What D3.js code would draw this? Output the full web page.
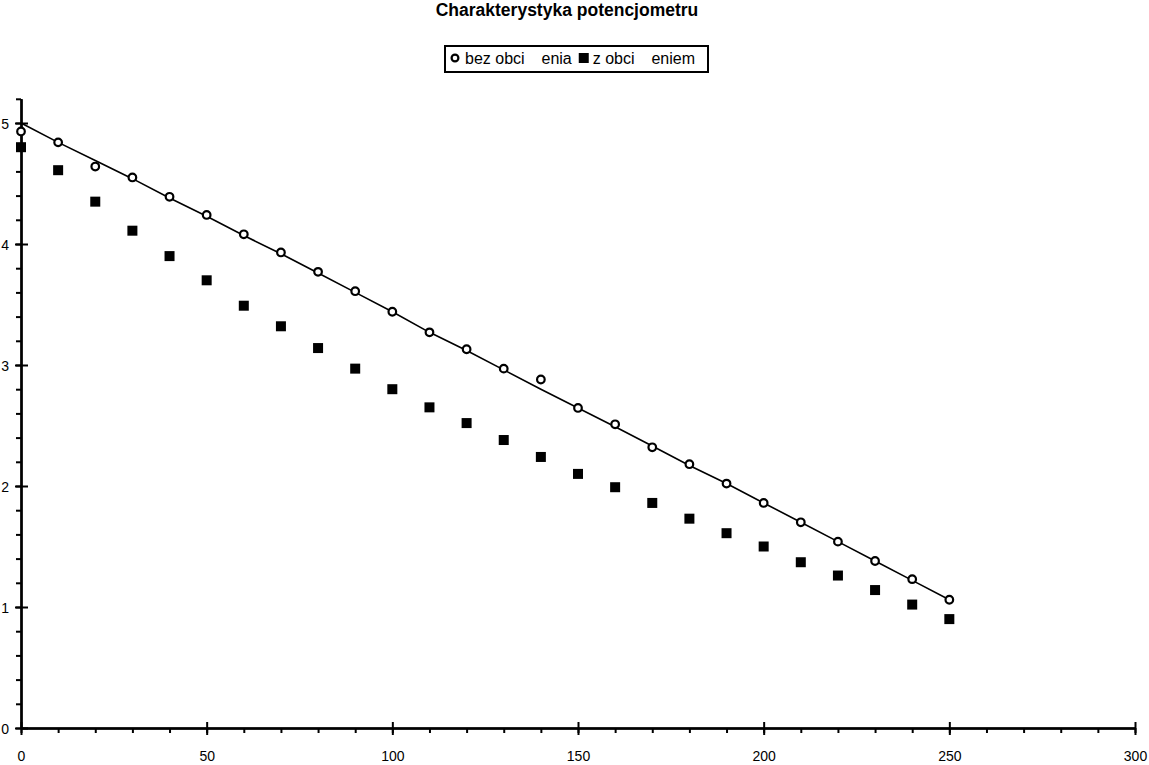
<!DOCTYPE html>
<html>
<head>
<meta charset="utf-8">
<script src="https://cdn.jsdelivr.net/npm/d3@7"></script>
<style>
  html, body { margin: 0; padding: 0; background: #fff; }
  svg { display: block; font-family: "Liberation Sans", Arial, Helvetica, sans-serif; }
</style>
</head>
<body>
<svg id="chart" width="1149" height="765"></svg>
<script>
// ---- data ----
const titleText = "Charakterystyka potencjometru";
const xValues = [0,10,20,30,40,50,60,70,80,90,100,110,120,130,140,150,160,170,180,190,200,210,220,230,240,250];
const bezObciazenia = [4.93,4.84,4.64,4.55,4.39,4.24,4.08,3.93,3.77,3.61,3.44,3.27,3.13,2.97,2.88,2.645,2.51,2.32,2.18,2.02,1.86,1.70,1.54,1.38,1.23,1.06];
const zObciazeniem  = [4.80,4.61,4.35,4.11,3.90,3.70,3.49,3.32,3.14,2.97,2.80,2.65,2.52,2.38,2.24,2.10,1.99,1.86,1.73,1.61,1.50,1.37,1.26,1.14,1.02,0.90];
const teoria        = [5.00,4.84,4.69,4.54,4.38,4.23,4.07,3.92,3.76,3.60,3.44,3.27,3.12,2.96,2.80,2.645,2.49,2.33,2.17,2.02,1.86,1.70,1.54,1.38,1.22,1.06];
const xMajorTicks = [0,50,100,150,200,250,300];
const yMajorTicks = [0,1,2,3,4,5];
const legendLabels = [["bez obci","ąż","enia"],["z obci","ąż","eniem"]];

// ---- layout ----
const svg = d3.select("#chart");
const x = d3.scaleLinear().domain([0,300]).range([21,1135]);
const y = d3.scaleLinear().domain([0,5.2]).range([728, 728 - 5.2*121]);
const xMinor = d3.range(0, 301, 10);
const yMinor = d3.range(0, 27).map(i => +(i*0.2).toFixed(1));

// title
svg.append("text").attr("x", 567).attr("y", 16).attr("text-anchor","middle")
  .attr("font-size", 17.5).attr("font-weight","bold").text(titleText);

// axes
const gx = svg.append("g");
gx.append("g").attr("transform","translate(0,728)")
  .call(d3.axisBottom(x).tickValues(xMinor).tickSize(5).tickSizeOuter(0).tickFormat(""));
gx.append("g").attr("transform","translate(0,728)")
  .call(d3.axisTop(x).tickValues(xMajorTicks).tickSize(6).tickSizeOuter(0).tickFormat(""));
gx.append("g").attr("transform","translate(0,728)")
  .call(d3.axisBottom(x).tickValues(xMajorTicks).tickSize(7).tickSizeOuter(0).tickPadding(16).tickFormat(d3.format("d")));

const gy = svg.append("g");
gy.append("g").attr("transform","translate(21,0)")
  .call(d3.axisLeft(y).tickValues(yMinor).tickSize(5).tickSizeOuter(0).tickFormat(""));
gy.append("g").attr("transform","translate(21,0)")
  .call(d3.axisRight(y).tickValues(yMajorTicks).tickSize(7).tickSizeOuter(0).tickFormat(""));
gy.append("g").attr("transform","translate(21,0)")
  .call(d3.axisLeft(y).tickValues(yMajorTicks).tickSize(6).tickSizeOuter(0).tickPadding(6).tickFormat(d3.format("d")));

svg.selectAll(".domain, .tick line").attr("stroke","#000").attr("stroke-width",2);
svg.selectAll(".tick text").attr("font-size",14).attr("fill","#000")
  .attr("font-family",'"Liberation Sans", Arial, sans-serif');
gy.selectAll(".tick text").attr("dy","0.4em");

// line
const pts = xValues.map((v,i)=>[v, teoria[i]]);
svg.append("path").datum(pts)
  .attr("fill","none").attr("stroke","#000").attr("stroke-width",1.6)
  .attr("d", d3.line().x(d=>x(d[0])).y(d=>y(d[1])));

// series markers
svg.append("g").selectAll("rect").data(xValues.map((v,i)=>[v, zObciazeniem[i]])).join("rect")
  .attr("x", d=>x(d[0])-5).attr("y", d=>y(d[1])-5).attr("width",10).attr("height",10).attr("fill","#000");
svg.append("g").selectAll("circle").data(xValues.map((v,i)=>[v, bezObciazenia[i]])).join("circle")
  .attr("cx", d=>x(d[0])).attr("cy", d=>y(d[1])).attr("r",3.8)
  .attr("fill","#fff").attr("stroke","#000").attr("stroke-width",2.2);

// legend
const lg = svg.append("g");
lg.append("rect").attr("x",445).attr("y",46).attr("width",263).attr("height",26)
  .attr("fill","#fff").attr("stroke","#000").attr("stroke-width",2);
lg.append("circle").attr("cx",455).attr("cy",58).attr("r",3.4)
  .attr("fill","#fff").attr("stroke","#000").attr("stroke-width",2.2);
function legendText(xp, parts){
  const t = lg.append("text").attr("x",xp).attr("y",63.5).attr("font-size",16);
  t.append("tspan").text(parts[0]);
  t.append("tspan").attr("fill-opacity",0).text(parts[1]);
  t.append("tspan").text(parts[2]);
  return t;
}
const t1 = legendText(465, legendLabels[0]);
const end1 = 465 + t1.node().getComputedTextLength();
lg.append("rect").attr("x", end1+7).attr("y",53).attr("width",10).attr("height",10).attr("fill","#000");
legendText(end1+21, legendLabels[1]);
</script>
</body>
</html>
